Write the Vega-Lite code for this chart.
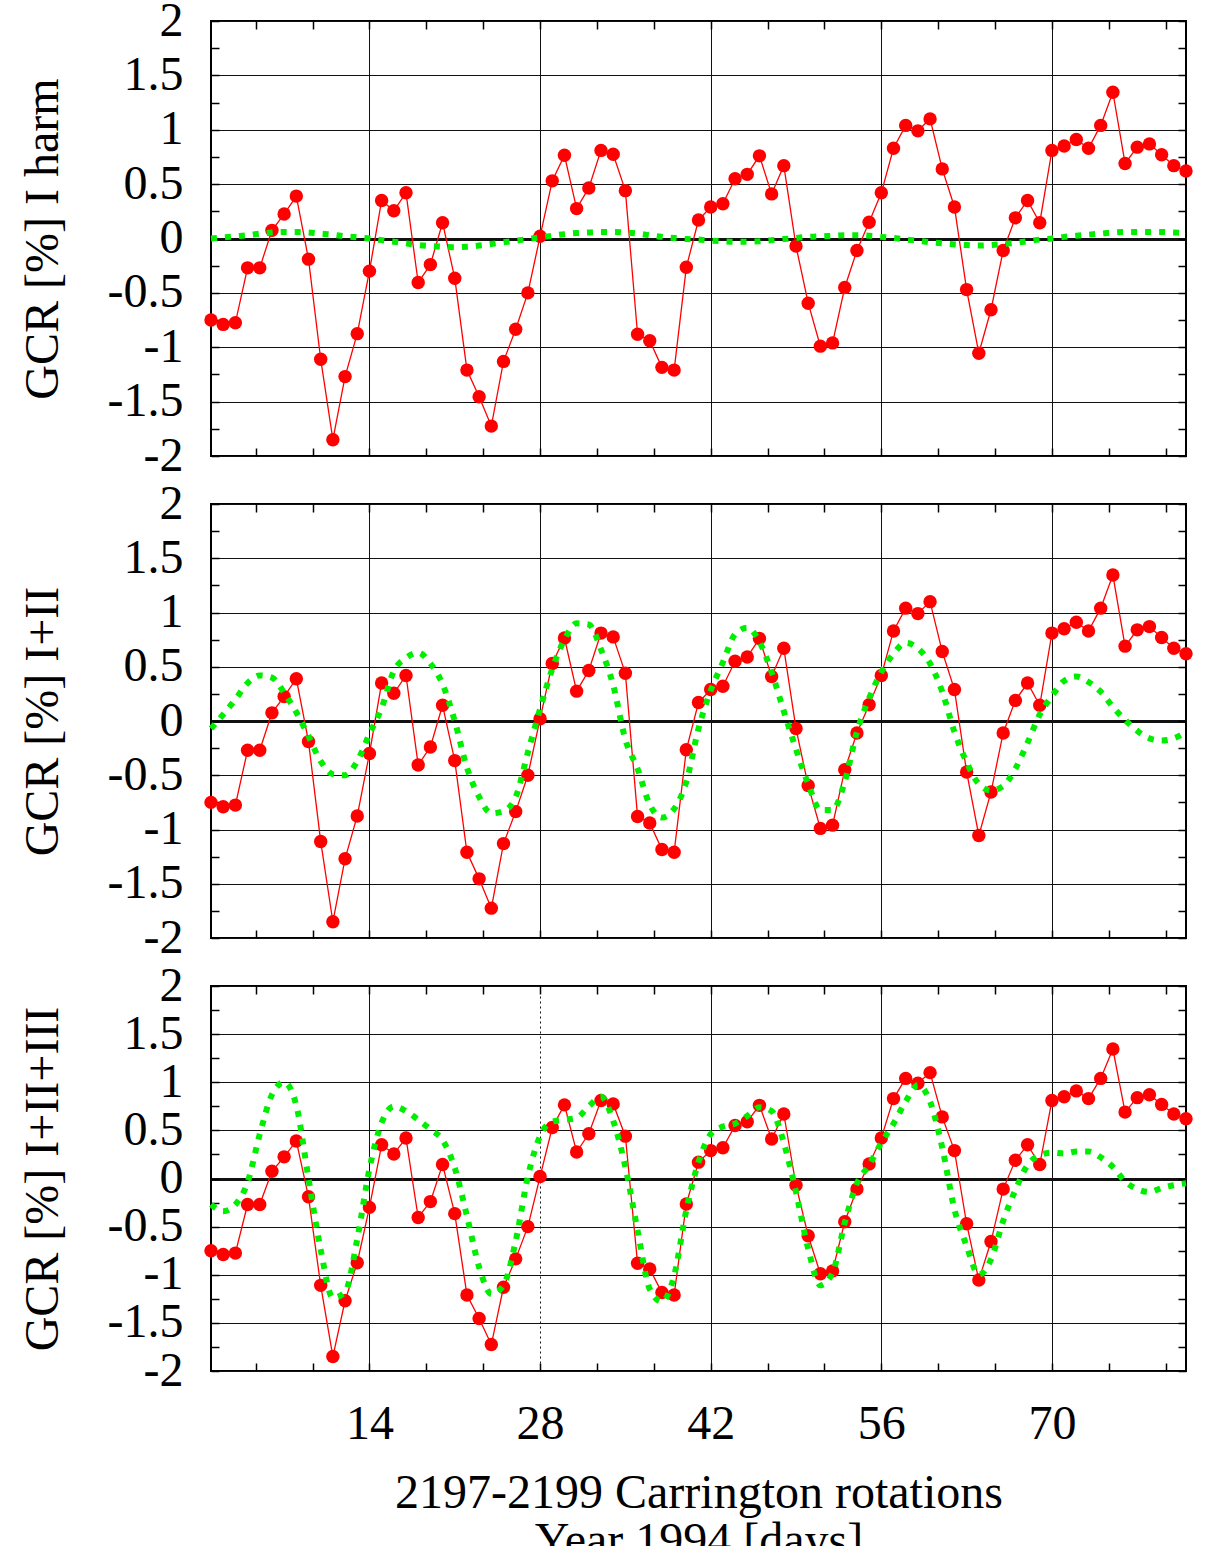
{
  "$schema": "https://vega.github.io/schema/vega-lite/v6.json",
  "background": "white",
  "padding": {"left": 18, "top": -4, "right": 10, "bottom": 10},
  "spacing": 48,
  "bounds": "flush",
  "config": {
    "view": {"stroke": "black", "strokeWidth": 2},
    "font": "Liberation Serif",
    "axis": {
      "labelFont": "Liberation Serif", "titleFont": "Liberation Serif",
      "labelFontSize": 48, "titleFontSize": 48, "titleFontWeight": "normal",
      "labelColor": "black", "titleColor": "black", "domain": false,
      "tickColor": "black", "tickWidth": 1.5, "gridColor": "#111111", "gridWidth": 1,
      "labelOverlap": false, "labelFlush": false, "labelBound": false
    }
  },
  "datasets": {
    "obs": [
      {"day":1,"gcr":-0.75},{"day":2,"gcr":-0.79},{"day":3,"gcr":-0.775},{"day":4,"gcr":-0.27},{"day":5,"gcr":-0.27},
      {"day":6,"gcr":0.075},{"day":7,"gcr":0.225},{"day":8,"gcr":0.39},{"day":9,"gcr":-0.19},{"day":10,"gcr":-1.11},
      {"day":11,"gcr":-1.85},{"day":12,"gcr":-1.27},{"day":13,"gcr":-0.875},{"day":14,"gcr":-0.30},{"day":15,"gcr":0.35},
      {"day":16,"gcr":0.255},{"day":17,"gcr":0.42},{"day":18,"gcr":-0.405},{"day":19,"gcr":-0.24},{"day":20,"gcr":0.145},
      {"day":21,"gcr":-0.365},{"day":22,"gcr":-1.21},{"day":23,"gcr":-1.455},{"day":24,"gcr":-1.725},{"day":25,"gcr":-1.13},
      {"day":26,"gcr":-0.835},{"day":27,"gcr":-0.50},{"day":28,"gcr":0.02},{"day":29,"gcr":0.53},{"day":30,"gcr":0.765},
      {"day":31,"gcr":0.275},{"day":32,"gcr":0.465},{"day":33,"gcr":0.81},{"day":34,"gcr":0.775},{"day":35,"gcr":0.44},
      {"day":36,"gcr":-0.88},{"day":37,"gcr":-0.94},{"day":38,"gcr":-1.185},{"day":39,"gcr":-1.21},{"day":40,"gcr":-0.265},
      {"day":41,"gcr":0.17},{"day":42,"gcr":0.29},{"day":43,"gcr":0.32},{"day":44,"gcr":0.55},{"day":45,"gcr":0.59},
      {"day":46,"gcr":0.76},{"day":47,"gcr":0.41},{"day":48,"gcr":0.67},{"day":49,"gcr":-0.07},{"day":50,"gcr":-0.595},
      {"day":51,"gcr":-0.99},{"day":52,"gcr":-0.96},{"day":53,"gcr":-0.45},{"day":54,"gcr":-0.11},{"day":55,"gcr":0.15},
      {"day":56,"gcr":0.42},{"day":57,"gcr":0.83},{"day":58,"gcr":1.04},{"day":59,"gcr":0.99},{"day":60,"gcr":1.10},
      {"day":61,"gcr":0.64},{"day":62,"gcr":0.29},{"day":63,"gcr":-0.47},{"day":64,"gcr":-1.055},{"day":65,"gcr":-0.655},
      {"day":66,"gcr":-0.11},{"day":67,"gcr":0.19},{"day":68,"gcr":0.35},{"day":69,"gcr":0.145},{"day":70,"gcr":0.81},
      {"day":71,"gcr":0.85},{"day":72,"gcr":0.91},{"day":73,"gcr":0.83},{"day":74,"gcr":1.04},{"day":75,"gcr":1.345},
      {"day":76,"gcr":0.69},{"day":77,"gcr":0.84},{"day":78,"gcr":0.87},{"day":79,"gcr":0.77},{"day":80,"gcr":0.67},
      {"day":81,"gcr":0.62}
    ],
    "fit": [
      {"day":1,"harmI":0.0,"harmII":-0.07,"harmIII":-0.27},
      {"day":2,"harmI":0.01,"harmII":0.06,"harmIII":-0.34},
      {"day":3,"harmI":0.02,"harmII":0.20,"harmIII":-0.27},
      {"day":4,"harmI":0.03,"harmII":0.35,"harmIII":-0.04},
      {"day":5,"harmI":0.045,"harmII":0.42,"harmIII":0.46},
      {"day":6,"harmI":0.055,"harmII":0.40,"harmIII":0.87},
      {"day":7,"harmI":0.06,"harmII":0.26,"harmIII":1.0},
      {"day":8,"harmI":0.06,"harmII":0.08,"harmIII":0.76},
      {"day":9,"harmI":0.055,"harmII":-0.14,"harmIII":0.0},
      {"day":10,"harmI":0.045,"harmII":-0.37,"harmIII":-0.74},
      {"day":11,"harmI":0.035,"harmII":-0.49,"harmIII":-1.24},
      {"day":12,"harmI":0.02,"harmII":-0.50,"harmIII":-1.18},
      {"day":13,"harmI":0.01,"harmII":-0.37,"harmIII":-0.63},
      {"day":14,"harmI":0.0,"harmII":-0.12,"harmIII":0.10},
      {"day":15,"harmI":-0.015,"harmII":0.12,"harmIII":0.58},
      {"day":16,"harmI":-0.03,"harmII":0.46,"harmIII":0.75},
      {"day":17,"harmI":-0.045,"harmII":0.58,"harmIII":0.70},
      {"day":18,"harmI":-0.06,"harmII":0.63,"harmIII":0.61},
      {"day":19,"harmI":-0.07,"harmII":0.53,"harmIII":0.51},
      {"day":20,"harmI":-0.075,"harmII":0.34,"harmIII":0.40},
      {"day":21,"harmI":-0.08,"harmII":0.0,"harmIII":0.11},
      {"day":22,"harmI":-0.075,"harmII":-0.43,"harmIII":-0.39},
      {"day":23,"harmI":-0.065,"harmII":-0.70,"harmIII":-0.92},
      {"day":24,"harmI":-0.05,"harmII":-0.85,"harmIII":-1.20},
      {"day":25,"harmI":-0.035,"harmII":-0.83,"harmIII":-1.11},
      {"day":26,"harmI":-0.02,"harmII":-0.70,"harmIII":-0.65},
      {"day":27,"harmI":-0.005,"harmII":-0.29,"harmIII":0.02},
      {"day":28,"harmI":0.01,"harmII":0.11,"harmIII":0.44},
      {"day":29,"harmI":0.025,"harmII":0.48,"harmIII":0.59},
      {"day":30,"harmI":0.04,"harmII":0.75,"harmIII":0.61},
      {"day":31,"harmI":0.05,"harmII":0.90,"harmIII":0.63},
      {"day":32,"harmI":0.055,"harmII":0.89,"harmIII":0.75},
      {"day":33,"harmI":0.06,"harmII":0.66,"harmIII":0.85},
      {"day":34,"harmI":0.06,"harmII":0.33,"harmIII":0.60},
      {"day":35,"harmI":0.055,"harmII":-0.17,"harmIII":0.12},
      {"day":36,"harmI":0.045,"harmII":-0.44,"harmIII":-0.54},
      {"day":37,"harmI":0.03,"harmII":-0.77,"harmIII":-1.15},
      {"day":38,"harmI":0.015,"harmII":-0.89,"harmIII":-1.28},
      {"day":39,"harmI":0.005,"harmII":-0.81,"harmIII":-1.01},
      {"day":40,"harmI":-0.005,"harmII":-0.56,"harmIII":-0.33},
      {"day":41,"harmI":-0.01,"harmII":-0.07,"harmIII":0.17},
      {"day":42,"harmI":-0.02,"harmII":0.28,"harmIII":0.46},
      {"day":43,"harmI":-0.025,"harmII":0.54,"harmIII":0.54},
      {"day":44,"harmI":-0.03,"harmII":0.80,"harmIII":0.57},
      {"day":45,"harmI":-0.03,"harmII":0.86,"harmIII":0.65},
      {"day":46,"harmI":-0.025,"harmII":0.73,"harmIII":0.74},
      {"day":47,"harmI":-0.015,"harmII":0.45,"harmIII":0.70},
      {"day":48,"harmI":-0.005,"harmII":0.09,"harmIII":0.37},
      {"day":49,"harmI":0.005,"harmII":-0.26,"harmIII":-0.14},
      {"day":50,"harmI":0.015,"harmII":-0.58,"harmIII":-0.73},
      {"day":51,"harmI":0.02,"harmII":-0.82,"harmIII":-1.11},
      {"day":52,"harmI":0.025,"harmII":-0.82,"harmIII":-0.98},
      {"day":53,"harmI":0.03,"harmII":-0.56,"harmIII":-0.46},
      {"day":54,"harmI":0.03,"harmII":-0.10,"harmIII":-0.05},
      {"day":55,"harmI":0.025,"harmII":0.21,"harmIII":0.14},
      {"day":56,"harmI":0.015,"harmII":0.45,"harmIII":0.37},
      {"day":57,"harmI":0.005,"harmII":0.62,"harmIII":0.57},
      {"day":58,"harmI":-0.01,"harmII":0.72,"harmIII":0.80},
      {"day":59,"harmI":-0.02,"harmII":0.67,"harmIII":0.97},
      {"day":60,"harmI":-0.035,"harmII":0.53,"harmIII":0.80},
      {"day":61,"harmI":-0.045,"harmII":0.27,"harmIII":0.32},
      {"day":62,"harmI":-0.055,"harmII":-0.10,"harmIII":-0.32},
      {"day":63,"harmI":-0.06,"harmII":-0.38,"harmIII":-0.70},
      {"day":64,"harmI":-0.065,"harmII":-0.58,"harmIII":-1.0},
      {"day":65,"harmI":-0.06,"harmII":-0.64,"harmIII":-0.84},
      {"day":66,"harmI":-0.05,"harmII":-0.60,"harmIII":-0.44},
      {"day":67,"harmI":-0.04,"harmII":-0.44,"harmIII":-0.12},
      {"day":68,"harmI":-0.025,"harmII":-0.20,"harmIII":0.14},
      {"day":69,"harmI":-0.01,"harmII":0.06,"harmIII":0.24},
      {"day":70,"harmI":0.0,"harmII":0.23,"harmIII":0.27},
      {"day":71,"harmI":0.015,"harmII":0.37,"harmIII":0.26},
      {"day":72,"harmI":0.025,"harmII":0.41,"harmIII":0.28},
      {"day":73,"harmI":0.035,"harmII":0.36,"harmIII":0.28},
      {"day":74,"harmI":0.045,"harmII":0.27,"harmIII":0.22},
      {"day":75,"harmI":0.055,"harmII":0.13,"harmIII":0.12},
      {"day":76,"harmI":0.06,"harmII":0.01,"harmIII":-0.03},
      {"day":77,"harmI":0.06,"harmII":-0.09,"harmIII":-0.11},
      {"day":78,"harmI":0.06,"harmII":-0.16,"harmIII":-0.14},
      {"day":79,"harmI":0.06,"harmII":-0.18,"harmIII":-0.10},
      {"day":80,"harmI":0.055,"harmII":-0.16,"harmIII":-0.07},
      {"day":81,"harmI":0.05,"harmII":-0.10,"harmIII":-0.05}
    ]
  },
  "vconcat": [
    {
      "width": 975, "height": 435,
      "resolve": {"axis": {"x": "independent", "y": "independent"}},
      "layer": [
        {
          "data": {"name": "obs"},
          "mark": {"type": "line", "color": "#ff0000", "strokeWidth": 1.3},
          "encoding": {
            "x": {"field": "day", "type": "quantitative", "scale": {"domain": [1, 81], "nice": false, "zero": false},
              "axis": {"orient": "bottom", "values": [4.6667,9.3333,14,18.6667,23.3333,28,32.6667,37.3333,42,46.6667,51.3333,56,60.6667,65.3333,70,74.6667,79.3333],
                "tickSize": -8, "labels": false, "title": null, "grid": true,
                "gridOpacity": {"condition": {"test": "abs(datum.value/14 - round(datum.value/14)) > 0.01", "value": 0}, "value": 1}}},
            "y": {"field": "gcr", "type": "quantitative", "scale": {"domain": [-2, 2], "nice": false},
              "axis": {"orient": "left", "values": [-2,-1.75,-1.5,-1.25,-1,-0.75,-0.5,-0.25,0,0.25,0.5,0.75,1,1.25,1.5,1.75,2],
                "tickSize": -8, "labelPadding": 36,
                "labelExpr": "datum.value % 0.5 == 0 ? toString(datum.value) : ''",
                "grid": true,
                "gridOpacity": {"condition": {"test": "datum.value % 0.5 != 0", "value": 0}, "value": 1},
                "gridWidth": {"condition": {"test": "datum.value == 0", "value": 3}, "value": 1},
                "title": "GCR [%] I harm", "titlePadding": 44, "minExtent": 100, "maxExtent": 100}}
          }
        },
        {
          "data": {"name": "obs"},
          "mark": {"type": "circle", "color": "#ff0000", "size": 180, "opacity": 1},
          "encoding": {
            "x": {"field": "day", "type": "quantitative", "scale": {"domain": [1, 81], "nice": false, "zero": false}, "axis": null},
            "y": {"field": "gcr", "type": "quantitative", "scale": {"domain": [-2, 2], "nice": false}, "axis": null}
          }
        },
        {
          "data": {"name": "fit"},
          "mark": {"type": "line", "color": "#00ee00", "strokeWidth": 6, "strokeDash": [6, 8], "strokeCap": "butt", "interpolate": "monotone"},
          "encoding": {
            "x": {"field": "day", "type": "quantitative", "scale": {"domain": [1, 81], "nice": false, "zero": false},
              "axis": {"orient": "top", "values": [4.6667,9.3333,14,18.6667,23.3333,28,32.6667,37.3333,42,46.6667,51.3333,56,60.6667,65.3333,70,74.6667,79.3333],
                "tickSize": -8, "labels": false, "title": null, "grid": false}},
            "y": {"field": "harmI", "type": "quantitative", "scale": {"domain": [-2, 2], "nice": false},
              "axis": {"orient": "right", "values": [-2,-1.75,-1.5,-1.25,-1,-0.75,-0.5,-0.25,0,0.25,0.5,0.75,1,1.25,1.5,1.75,2],
                "tickSize": -8, "labels": false, "title": null, "grid": false}}
          }
        }
      ]
    },
    {
      "width": 975, "height": 434,
      "resolve": {"axis": {"x": "independent", "y": "independent"}},
      "layer": [
        {
          "data": {"name": "obs"},
          "mark": {"type": "line", "color": "#ff0000", "strokeWidth": 1.3},
          "encoding": {
            "x": {"field": "day", "type": "quantitative", "scale": {"domain": [1, 81], "nice": false, "zero": false},
              "axis": {"orient": "bottom", "values": [4.6667,9.3333,14,18.6667,23.3333,28,32.6667,37.3333,42,46.6667,51.3333,56,60.6667,65.3333,70,74.6667,79.3333],
                "tickSize": -8, "labels": false, "title": null, "grid": true,
                "gridOpacity": {"condition": {"test": "abs(datum.value/14 - round(datum.value/14)) > 0.01", "value": 0}, "value": 1}}},
            "y": {"field": "gcr", "type": "quantitative", "scale": {"domain": [-2, 2], "nice": false},
              "axis": {"orient": "left", "values": [-2,-1.75,-1.5,-1.25,-1,-0.75,-0.5,-0.25,0,0.25,0.5,0.75,1,1.25,1.5,1.75,2],
                "tickSize": -8, "labelPadding": 36,
                "labelExpr": "datum.value % 0.5 == 0 ? toString(datum.value) : ''",
                "grid": true,
                "gridOpacity": {"condition": {"test": "datum.value % 0.5 != 0", "value": 0}, "value": 1},
                "gridWidth": {"condition": {"test": "datum.value == 0", "value": 3}, "value": 1},
                "title": "GCR [%] I+II", "titlePadding": 44, "minExtent": 100, "maxExtent": 100}}
          }
        },
        {
          "data": {"name": "obs"},
          "mark": {"type": "circle", "color": "#ff0000", "size": 180, "opacity": 1},
          "encoding": {
            "x": {"field": "day", "type": "quantitative", "scale": {"domain": [1, 81], "nice": false, "zero": false}, "axis": null},
            "y": {"field": "gcr", "type": "quantitative", "scale": {"domain": [-2, 2], "nice": false}, "axis": null}
          }
        },
        {
          "data": {"name": "fit"},
          "mark": {"type": "line", "color": "#00ee00", "strokeWidth": 6, "strokeDash": [6, 8], "strokeCap": "butt", "interpolate": "monotone"},
          "encoding": {
            "x": {"field": "day", "type": "quantitative", "scale": {"domain": [1, 81], "nice": false, "zero": false},
              "axis": {"orient": "top", "values": [4.6667,9.3333,14,18.6667,23.3333,28,32.6667,37.3333,42,46.6667,51.3333,56,60.6667,65.3333,70,74.6667,79.3333],
                "tickSize": -8, "labels": false, "title": null, "grid": false}},
            "y": {"field": "harmII", "type": "quantitative", "scale": {"domain": [-2, 2], "nice": false},
              "axis": {"orient": "right", "values": [-2,-1.75,-1.5,-1.25,-1,-0.75,-0.5,-0.25,0,0.25,0.5,0.75,1,1.25,1.5,1.75,2],
                "tickSize": -8, "labels": false, "title": null, "grid": false}}
          }
        }
      ]
    },
    {
      "width": 975, "height": 385,
      "resolve": {"axis": {"x": "independent", "y": "independent"}},
      "layer": [
        {
          "data": {"name": "obs"},
          "mark": {"type": "line", "color": "#ff0000", "strokeWidth": 1.3},
          "encoding": {
            "x": {"field": "day", "type": "quantitative", "scale": {"domain": [1, 81], "nice": false, "zero": false},
              "axis": {"orient": "bottom", "values": [4.6667,9.3333,14,18.6667,23.3333,28,32.6667,37.3333,42,46.6667,51.3333,56,60.6667,65.3333,70,74.6667,79.3333],
                "tickSize": -8, "labelPadding": 37,
                "labelExpr": "abs(datum.value/14 - round(datum.value/14)) < 0.01 ? toString(round(datum.value)) : ''",
                "grid": true,
                "gridOpacity": {"condition": {"test": "abs(datum.value/14 - round(datum.value/14)) > 0.01", "value": 0}, "value": 1},
                "gridDash": {"condition": {"test": "datum.value == 28", "value": [2, 3]}, "value": []},
                "title": ["2197-2199 Carrington rotations", "Year 1994 [days]"], "titleLineHeight": 48,
                "titlePadding": 23, "minExtent": 75, "maxExtent": 75}},
            "y": {"field": "gcr", "type": "quantitative", "scale": {"domain": [-2, 2], "nice": false},
              "axis": {"orient": "left", "values": [-2,-1.75,-1.5,-1.25,-1,-0.75,-0.5,-0.25,0,0.25,0.5,0.75,1,1.25,1.5,1.75,2],
                "tickSize": -8, "labelPadding": 36,
                "labelExpr": "datum.value % 0.5 == 0 ? toString(datum.value) : ''",
                "grid": true,
                "gridOpacity": {"condition": {"test": "datum.value % 0.5 != 0", "value": 0}, "value": 1},
                "gridWidth": {"condition": {"test": "datum.value == 0", "value": 3}, "value": 1},
                "title": "GCR [%] I+II+III", "titlePadding": 44, "minExtent": 100, "maxExtent": 100}}
          }
        },
        {
          "data": {"name": "obs"},
          "mark": {"type": "circle", "color": "#ff0000", "size": 180, "opacity": 1},
          "encoding": {
            "x": {"field": "day", "type": "quantitative", "scale": {"domain": [1, 81], "nice": false, "zero": false}, "axis": null},
            "y": {"field": "gcr", "type": "quantitative", "scale": {"domain": [-2, 2], "nice": false}, "axis": null}
          }
        },
        {
          "data": {"name": "fit"},
          "mark": {"type": "line", "color": "#00ee00", "strokeWidth": 6, "strokeDash": [6, 8], "strokeCap": "butt", "interpolate": "monotone"},
          "encoding": {
            "x": {"field": "day", "type": "quantitative", "scale": {"domain": [1, 81], "nice": false, "zero": false},
              "axis": {"orient": "top", "values": [4.6667,9.3333,14,18.6667,23.3333,28,32.6667,37.3333,42,46.6667,51.3333,56,60.6667,65.3333,70,74.6667,79.3333],
                "tickSize": -8, "labels": false, "title": null, "grid": false}},
            "y": {"field": "harmIII", "type": "quantitative", "scale": {"domain": [-2, 2], "nice": false},
              "axis": {"orient": "right", "values": [-2,-1.75,-1.5,-1.25,-1,-0.75,-0.5,-0.25,0,0.25,0.5,0.75,1,1.25,1.5,1.75,2],
                "tickSize": -8, "labels": false, "title": null, "grid": false}}
          }
        }
      ]
    }
  ]
}
